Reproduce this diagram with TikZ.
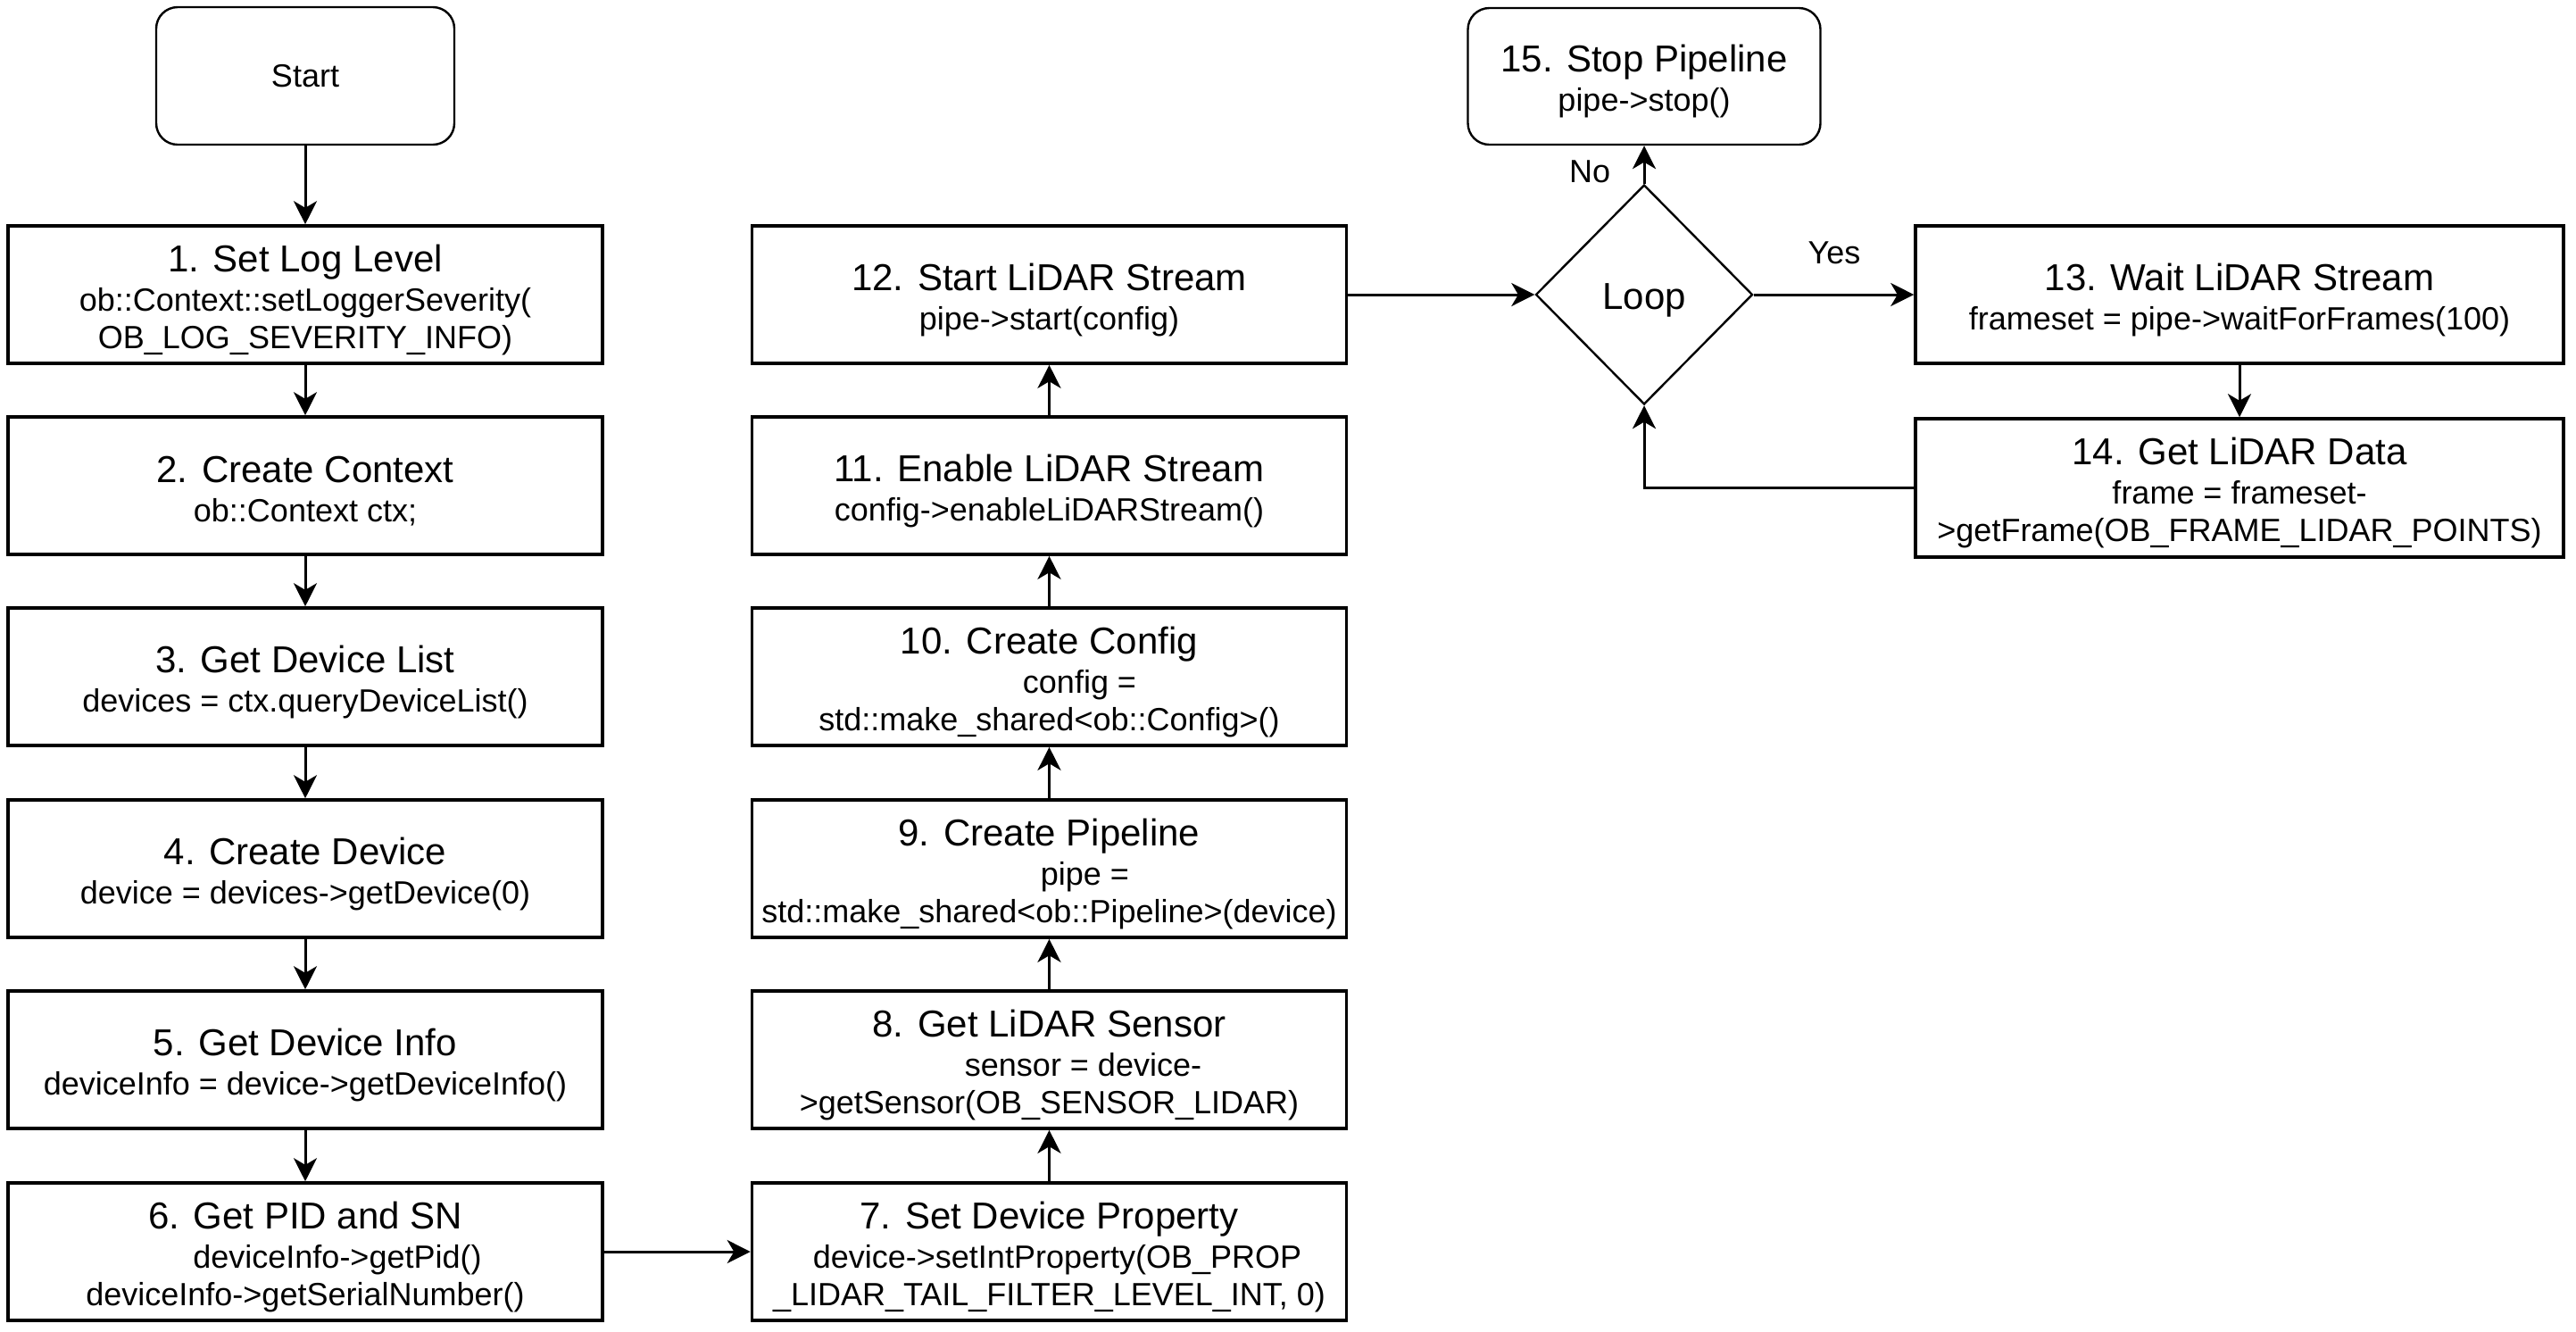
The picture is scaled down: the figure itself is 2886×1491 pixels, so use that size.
\documentclass[tikz,border=0pt]{standalone}
\usepackage{fontspec}
\setmainfont{Liberation Sans}
\usetikzlibrary{arrows.meta,shapes.geometric}
\tikzset{
  stepbox/.style={draw, line width=0.9pt, rectangle, minimum width=166.5pt, minimum height=38.5pt, inner sep=0pt, align=center, font=\fontsize{9}{10.5}\selectfont},
  widebox/.style={stepbox, minimum width=181.5pt},
  termbox/.style={draw, line width=0.6pt, rectangle, rounded corners=6pt, inner sep=0pt, align=center, font=\fontsize{9}{10.5}\selectfont},
  decision/.style={draw, line width=0.6pt, diamond, minimum width=60.75pt, minimum height=61.5pt, inner sep=0pt, text height=10.4pt, text depth=2.2pt, font=\fontsize{10.5}{12}\selectfont},
  arr/.style={draw, line width=0.75pt, -{Stealth[length=6.5pt,width=6.5pt,inset=1.9pt]}},
  lbl/.style={font=\fontsize{9}{10.8}\selectfont, inner sep=0pt}
}
\newcommand\ttl[1]{{\fontsize{10.5}{12}\selectfont\rule{0pt}{10.5pt}#1}\\[0.6pt]}
\begin{document}
\begin{tikzpicture}[x=0.25pt,y=-0.25pt]
\useasboundingbox (0,0) rectangle (2886,1491);
% column 1
\node[termbox, minimum width=83.5pt, minimum height=38.5pt] (start) at (342,85) {Start};
\node[stepbox] (b1) at (342,330) {\ttl{1. Set Log Level}ob::Context::setLoggerSeverity(\\OB\_LOG\_SEVERITY\_INFO)};
\node[stepbox] (b2) at (342,544) {\ttl{2. Create Context}ob::Context ctx;};
\node[stepbox] (b3) at (342,758) {\ttl{3. Get Device List}devices = ctx.queryDeviceList()};
\node[stepbox] (b4) at (342,973) {\ttl{4. Create Device}device = devices->getDevice(0)};
\node[stepbox] (b5) at (342,1187) {\ttl{5. Get Device Info}deviceInfo = device->getDeviceInfo()};
\node[stepbox] (b6) at (342,1402) {\ttl{6. Get PID and SN}\hspace*{18pt}deviceInfo->getPid()\\deviceInfo->getSerialNumber()};
% column 2
\node[stepbox] (b7) at (1175.5,1402) {\ttl{7. Set Device Property}\hspace*{4.5pt}device->setIntProperty(OB\_PROP\\\_LIDAR\_TAIL\_FILTER\_LEVEL\_INT, 0)};
\node[stepbox] (b8) at (1175.5,1187) {\ttl{8. Get LiDAR Sensor}\hspace*{19pt}sensor = device-\\>getSensor(OB\_SENSOR\_LIDAR)};
\node[stepbox] (b9) at (1175.5,973) {\ttl{9. Create Pipeline}\hspace*{20pt}pipe =\\std::make\_shared<ob::Pipeline>(device)};
\node[stepbox] (b10) at (1175.5,758) {\ttl{10. Create Config}\hspace*{17pt}config =\\std::make\_shared<ob::Config>()};
\node[stepbox] (b11) at (1175.5,544) {\ttl{11. Enable LiDAR Stream}config->enableLiDARStream()};
\node[stepbox] (b12) at (1175.5,330) {\ttl{12. Start LiDAR Stream}pipe->start(config)};
% loop part
\node[decision] (loop) at (1842,330) {Loop};
\node[termbox, minimum width=98.75pt, minimum height=38.25pt] (b15) at (1842,85.5) {\ttl{15. Stop Pipeline}pipe->stop()};
\node[widebox] (b13) at (2509,330) {\ttl{13. Wait LiDAR Stream}frameset = pipe->waitForFrames(100)};
\node[widebox, minimum height=38.75pt] (b14) at (2509,546.5) {\ttl{14. Get LiDAR Data}frame = frameset-\\>getFrame(OB\_FRAME\_LIDAR\_POINTS)};
\node[lbl] (yes) at (2055,283) {Yes};
\node[lbl] (no) at (1781,192) {No};
% connectors
\draw[arr] (start) -- (b1);
\draw[arr] (b1) -- (b2);
\draw[arr] (b2) -- (b3);
\draw[arr] (b3) -- (b4);
\draw[arr] (b4) -- (b5);
\draw[arr] (b5) -- (b6);
\draw[arr] (b6) -- (b7);
\draw[arr] (b7) -- (b8);
\draw[arr] (b8) -- (b9);
\draw[arr] (b9) -- (b10);
\draw[arr] (b10) -- (b11);
\draw[arr] (b11) -- (b12);
\draw[arr] (b12) -- (loop);
\draw[arr] (loop) -- (b13);
\draw[arr] (b13) -- (b14);
\draw[arr] (b14.west) -| (loop.south);
\draw[arr] (loop) -- (b15);
\end{tikzpicture}
\end{document}
